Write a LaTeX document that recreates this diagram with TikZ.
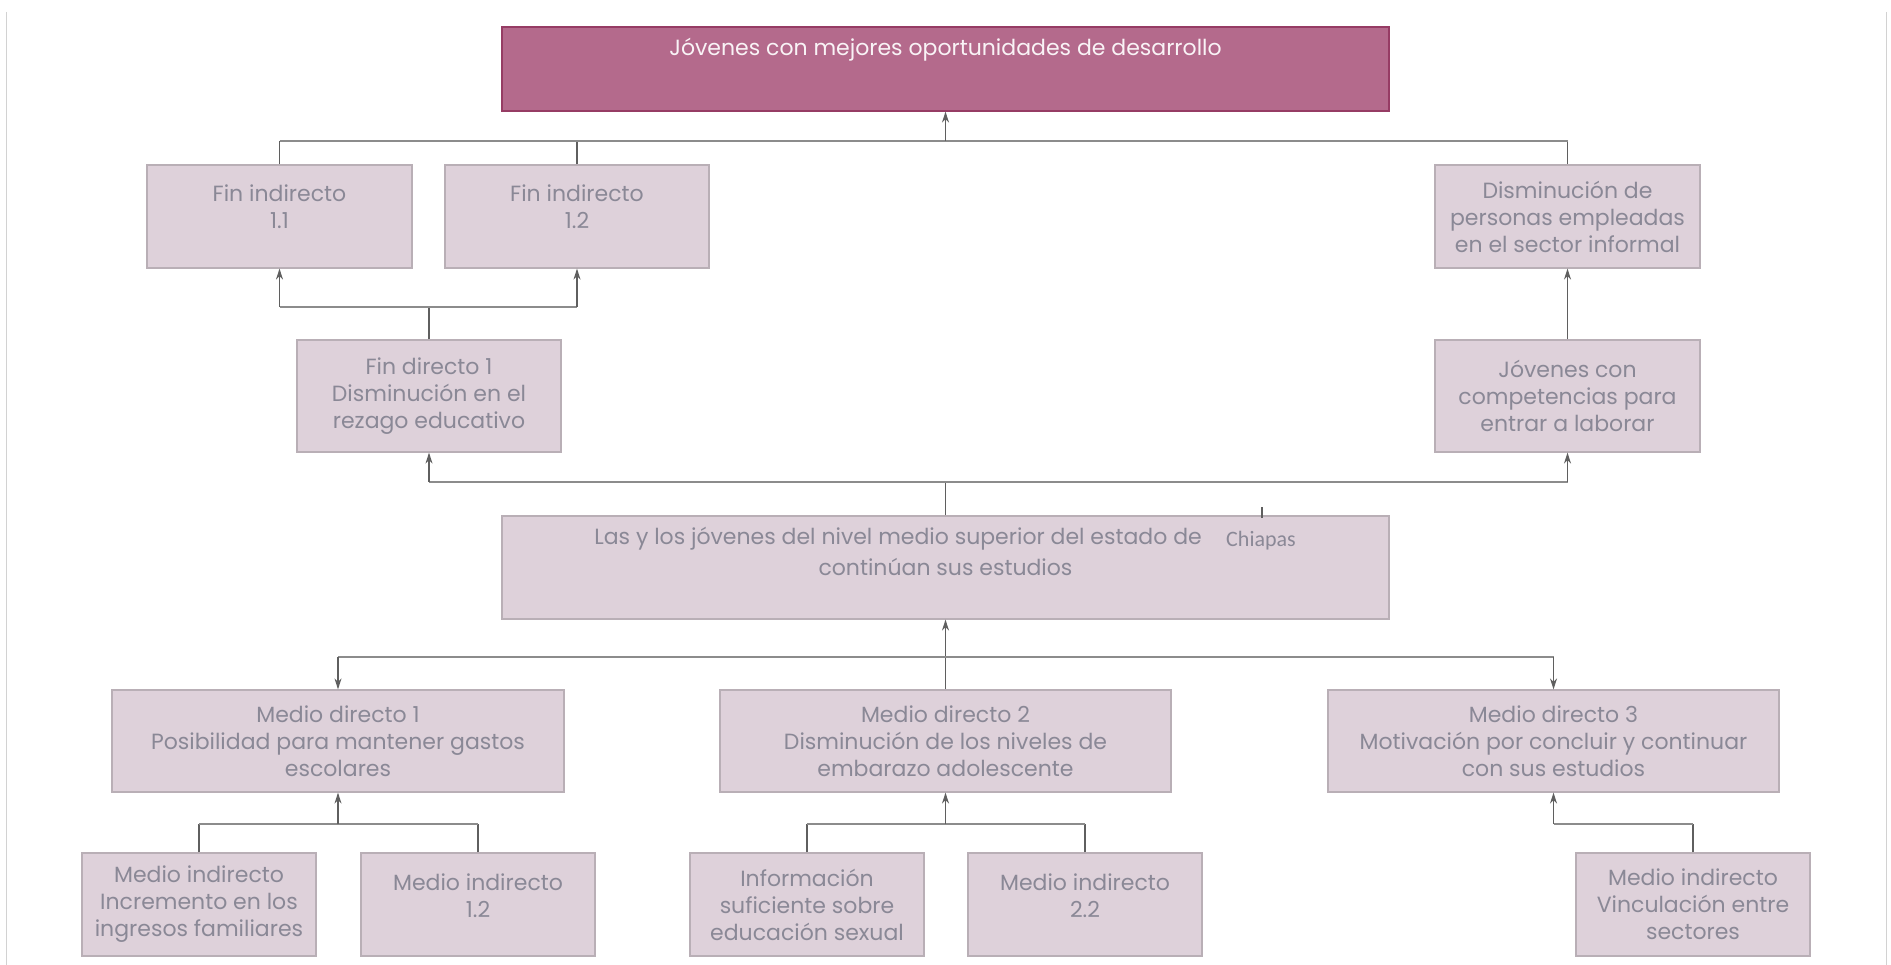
\documentclass[tikz,border=0pt]{standalone}
\usepackage{fontspec}
\setmainfont{Poppins}
\newfontfamily\calibri{Carlito}
\usetikzlibrary{arrows.meta}
\definecolor{boxfill}{RGB}{222,209,218}
\definecolor{boxline}{RGB}{185,175,182}
\definecolor{boxtext}{RGB}{138,136,150}
\definecolor{topfill}{RGB}{180,106,140}
\definecolor{topline}{RGB}{150,60,100}
\definecolor{busline}{RGB}{140,140,140}
\definecolor{wireline}{RGB}{95,95,95}
\tikzset{
  treebox/.style={draw=boxline, line width=1.2pt, fill=boxfill, text=boxtext, align=center,
    inner sep=0pt, font=\fontsize{22}{27}\selectfont},
  bus/.style={busline, line width=2.5pt},
  wire/.style={wireline, line width=1.3pt},
  up/.style={wire, -{Stealth[length=11pt,width=7pt]}},
}
\begin{document}
\begin{tikzpicture}[x=1pt, y=-1pt]
\useasboundingbox (0,0) rectangle (1891,965);
\draw[gray!35, line width=1pt] (6,12) -- (6,965);
\draw[gray!35, line width=1pt] (1886,12) -- (1886,965);

% fines
\node[draw=topline, line width=1.2pt, fill=topfill, minimum width=887pt, minimum height=84pt] (top) at (945.5,69) {};
\node[text=white!92!topfill, font=\fontsize{22}{27}\selectfont] (toptxt) at (945.5,50) {Jóvenes con mejores oportunidades de desarrollo};
\node[treebox, minimum width=265pt, minimum height=103pt] (fi11) at (279.5,216.5) {Fin indirecto\\1.1\\[-8pt]};
\node[treebox, minimum width=264pt, minimum height=103pt] (fi12) at (577,216.5) {Fin indirecto\\1.2\\[-8pt]};
\node[treebox, minimum width=265pt, minimum height=103pt] (dpe) at (1567.5,216.5) {Disminución de\\personas empleadas\\en el sector informal};
\node[treebox, minimum width=264pt, minimum height=112pt] (fd1) at (429,396) {Fin directo 1\\Disminución en el\\rezago educativo};
\node[treebox, minimum width=265pt, minimum height=112pt] (jcc) at (1567.5,396) {Jóvenes con\\competencias para\\entrar a laborar};

% problema central
\node[treebox, minimum width=887pt, minimum height=103pt] (cen) at (945.5,567.5) {};
\node[text=boxtext, font=\fontsize{22}{27}\selectfont, anchor=east, inner sep=0pt] (cent1) at (1202,539) {Las y los jóvenes del nivel medio superior del estado de};
\node[text=boxtext, font=\fontsize{22}{27}\selectfont] (cent2) at (945.5,567) {continúan sus estudios};
\node[text=boxtext, font=\calibri\fontsize{22}{24}\selectfont] (chis) at (1261,541) {Chiapas};
\coordinate (tick) at (1262,507);
\draw[wire] (tick) -- ++(0,11);

% medios
\node[treebox, minimum width=452pt, minimum height=102pt] (md1) at (338,741) {Medio directo 1\\Posibilidad para mantener gastos\\escolares};
\node[treebox, minimum width=451pt, minimum height=102pt] (md2) at (945.5,741) {Medio directo 2\\Disminución de los niveles de\\embarazo adolescente};
\node[treebox, minimum width=451pt, minimum height=102pt] (md3) at (1553.5,741) {Medio directo 3\\Motivación por concluir y continuar\\con sus estudios};
\node[treebox, minimum width=234pt, minimum height=103pt] (mi11) at (199,904.5) {Medio indirecto\\Incremento en los\\ingresos familiares};
\node[treebox, minimum width=234pt, minimum height=103pt] (mi12) at (478,904.5) {Medio indirecto\\1.2\\[-10pt]};
\node[treebox, minimum width=234pt, minimum height=103pt] (inf) at (807,904.5) {Información\\suficiente sobre\\educación sexual};
\node[treebox, minimum width=234pt, minimum height=103pt] (mi22) at (1085,904.5) {Medio indirecto\\2.2\\[-10pt]};
\node[treebox, minimum width=234pt, minimum height=103pt] (vin) at (1693,904.5) {Medio indirecto\\Vinculación entre\\sectores};

% niveles de las barras
\coordinate (busA) at (0,141);
\coordinate (busB) at (0,307);
\coordinate (busC) at (0,482);
\coordinate (busD) at (0,657);
\coordinate (busE) at (0,824);

% arriba
\draw[wire] (fi11.north) -- (fi11.north |- busA);
\draw[wire] (fi12.north) -- (fi12.north |- busA);
\draw[wire] (dpe.north) -- (dpe.north |- busA);
\draw[bus] (fi11.north |- busA) -- (dpe.north |- busA);
\draw[up] (top.south |- busA) -- (top.south);
\draw[wire] (fd1.north) -- (fd1.north |- busB);
\draw[bus] (fi11.south |- busB) -- (fi12.south |- busB);
\draw[up] (fi11.south |- busB) -- (fi11.south);
\draw[up] (fi12.south |- busB) -- (fi12.south);
\draw[up] (jcc.north) -- (dpe.south);
\draw[wire] (cen.north) -- (cen.north |- busC);
\draw[bus] (fd1.south |- busC) -- (jcc.south |- busC);
\draw[up] (fd1.south |- busC) -- (fd1.south);
\draw[up] (jcc.south |- busC) -- (jcc.south);

% abajo
\draw[up] (md2.north) -- (cen.south);
\draw[bus] (md1.north |- busD) -- (md3.north |- busD);
\draw[up] (md1.north |- busD) -- (md1.north);
\draw[up] (md3.north |- busD) -- (md3.north);
\draw[wire] (mi11.north) -- (mi11.north |- busE);
\draw[wire] (mi12.north) -- (mi12.north |- busE);
\draw[bus] (mi11.north |- busE) -- (mi12.north |- busE);
\draw[up] (md1.south |- busE) -- (md1.south);
\draw[wire] (inf.north) -- (inf.north |- busE);
\draw[wire] (mi22.north) -- (mi22.north |- busE);
\draw[bus] (inf.north |- busE) -- (mi22.north |- busE);
\draw[up] (md2.south |- busE) -- (md2.south);
\draw[wire] (vin.north) -- (vin.north |- busE);
\draw[bus] (md3.south |- busE) -- (vin.north |- busE);
\draw[up] (md3.south |- busE) -- (md3.south);
\end{tikzpicture}
\end{document}
